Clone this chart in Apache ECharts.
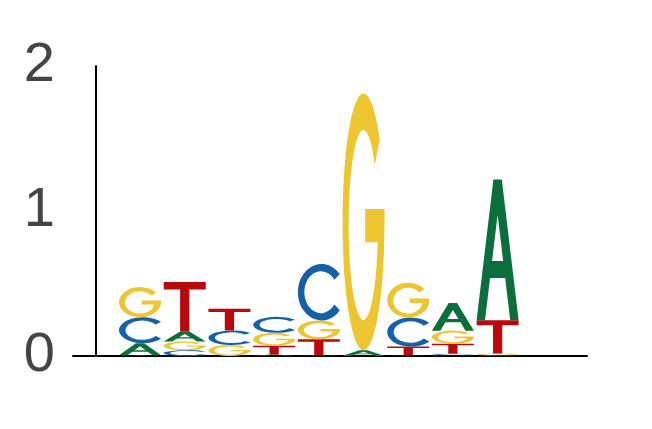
<!DOCTYPE html>
<html>
<head>
<meta charset="utf-8">
<script src="https://cdn.jsdelivr.net/npm/echarts@6/dist/echarts.min.js"></script>
<style>
  html, body { margin: 0; padding: 0; background: #fff; }
  #logo { width: 652px; height: 429px; }
</style>
</head>
<body>
<div id="logo"></div>
<script>
// 每個位置各鹼基的高度 (bits)
const positions = [1, 2, 3, 4, 5, 6, 7, 8, 9];
const heightA = [0.083, 0.07, 0.0, 0.01, 0.005, 0.04, 0.005, 0.19, 0.97];
const heightC = [0.18, 0.04, 0.10, 0.11, 0.39, 0.0, 0.20, 0.015, 0.005];
const heightG = [0.207, 0.06, 0.076, 0.09, 0.13, 1.77, 0.24, 0.09, 0.012];
const heightT = [0.005, 0.34, 0.15, 0.06, 0.11, 0.0, 0.06, 0.07, 0.23];
const yTicks = [0, 1, 2];

const letters = ['A', 'C', 'G', 'T'];
const colors = { A: '#0b6f3b', C: '#1560a6', G: '#ecc530', T: '#b8090f' };

// 字母外形 (100x100 單位框, layout cover 拉伸填滿)
const glyphs = {
  A: 'M0,100 L40,0 L60,0 L100,100 L80,100 L68,70 L32,70 L20,100 Z M36.8,58 L63.2,58 L50,25 Z',
  C: 'M88.3,17.9 A50,50 0 1,0 88.3,82.1 L76.8,71.9 A35,37 0 1,1 76.8,28.1 Z',
  G: 'M88.3,17.9 A50,50 0 1,0 100,50 L100,45 L54,45 L54,58 L83.9,58 A35,37 0 1,1 76.8,28.1 Z',
  T: 'M0,0 L100,0 L100,15 L61,15 L61,100 L39,100 L39,15 L0,15 Z'
};

// 堆疊: 每個位置由小到大往上疊
const stackData = [];
positions.forEach((pos, i) => {
  const items = [
    { l: 'A', h: heightA[i] },
    { l: 'C', h: heightC[i] },
    { l: 'G', h: heightG[i] },
    { l: 'T', h: heightT[i] }
  ].filter(d => d.h > 0).sort((a, b) => a.h - b.h);
  let base = 0;
  items.forEach(d => {
    stackData.push([pos, base, base + d.h, letters.indexOf(d.l)]);
    base += d.h;
  });
});

const halfWidth = 0.47;

const chart = echarts.init(document.getElementById('logo'));
chart.setOption({
  animation: false,
  grid: { left: 73, right: 65, top: 66, bottom: 73 },
  xAxis: {
    type: 'value',
    min: -0.5,
    max: 11,
    axisLine: { show: true, lineStyle: { color: '#000', width: 2 } },
    axisTick: { show: false },
    axisLabel: { show: false },
    splitLine: { show: false }
  },
  yAxis: {
    type: 'value',
    min: yTicks[0],
    max: yTicks[yTicks.length - 1],
    interval: 1,
    axisLine: { show: true, onZero: true, lineStyle: { color: '#000', width: 2 } },
    axisTick: { show: false },
    axisLabel: {
      fontSize: 56,
      color: '#444',
      margin: 18,
      fontFamily: 'Liberation Sans'
    },
    splitLine: { show: false }
  },
  series: [{
    type: 'custom',
    data: stackData,
    renderItem: function (params, api) {
      const pos = api.value(0);
      const topLeft = api.coord([pos - halfWidth, api.value(2)]);
      const bottomRight = api.coord([pos + halfWidth, api.value(1)]);
      const l = letters[api.value(3)];
      return {
        type: 'path',
        shape: {
          pathData: glyphs[l],
          x: topLeft[0],
          y: topLeft[1],
          width: bottomRight[0] - topLeft[0],
          height: bottomRight[1] - topLeft[1],
          layout: 'cover'
        },
        style: { fill: colors[l] }
      };
    }
  }]
});
</script>
</body>
</html>
